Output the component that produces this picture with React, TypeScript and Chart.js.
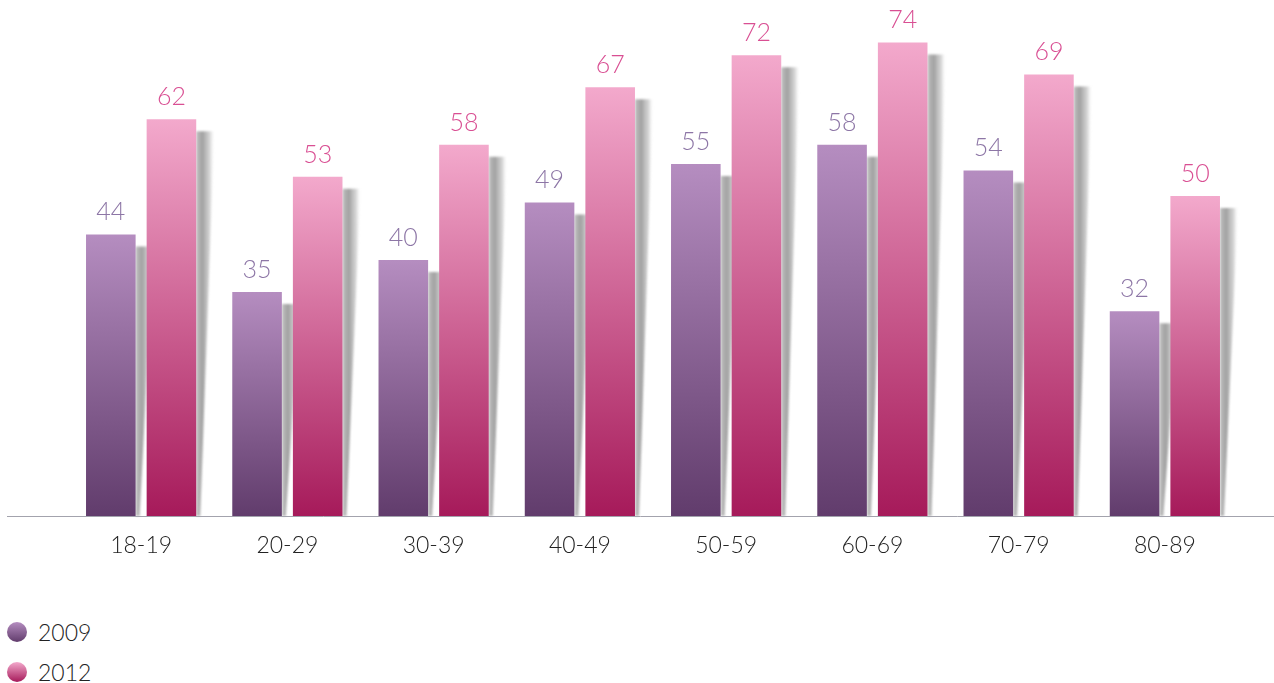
import React, { useEffect, useRef } from "react";
import { Chart, registerables } from "chart.js";

Chart.register(...registerables);

const categories = ["18-19", "20-29", "30-39", "40-49", "50-59", "60-69", "70-79", "80-89"];
const series2009 = [44, 35, 40, 49, 55, 58, 54, 32];
const series2012 = [62, 53, 58, 67, 72, 74, 69, 50];
const seriesLabels = ["2009", "2012"];

const FONT = "Lato, 'Open Sans', sans-serif";
const gradStops = [
  { top: "#b58dc0", bottom: "#613c6c", label: "#8d76a6" },
  { top: "#f3a9cc", bottom: "#a61a5a", label: "#d94f93" },
];

function barGradient(idx: number) {
  return (c: any) => {
    const chart = c.chart;
    const area = chart.chartArea;
    const st = gradStops[idx];
    if (!area || !chart.scales?.y) return st.top;
    const yTop = chart.scales.y.getPixelForValue(c.raw);
    const g = chart.ctx.createLinearGradient(0, yTop, 0, area.bottom);
    g.addColorStop(0, st.top);
    g.addColorStop(1, st.bottom);
    return g;
  };
}

const shadowPlugin = {
  id: "barShadow",
  beforeDatasetsDraw(chart: any) {
    const ctx = chart.ctx;
    chart.data.datasets.forEach((_: any, di: number) => {
      const meta = chart.getDatasetMeta(di);
      meta.data.forEach((bar: any) => {
        const right = bar.x + bar.width / 2;
        const top = bar.y + 12;
        const base = bar.base;
        ctx.save();
        ctx.filter = "blur(1.2px)";
        const g = ctx.createLinearGradient(right, 0, right + 18, 0);
        g.addColorStop(0, "rgba(150,150,150,0.6)");
        g.addColorStop(0.35, "rgba(110,110,110,0.65)");
        g.addColorStop(0.75, "rgba(150,150,150,0.4)");
        g.addColorStop(1, "rgba(220,220,220,0)");
        ctx.fillStyle = g;
        ctx.beginPath();
        ctx.moveTo(right, top);
        ctx.lineTo(right + 18, top);
        ctx.lineTo(right + 4, base);
        ctx.lineTo(right, base);
        ctx.closePath();
        ctx.fill();
        ctx.restore();
      });
    });
  },
};

const labelPlugin = {
  id: "valueLabels",
  afterDatasetsDraw(chart: any) {
    const ctx = chart.ctx;
    ctx.save();
    ctx.font = `300 25px ${FONT}`;
    ctx.textAlign = "center";
    ctx.textBaseline = "alphabetic";
    chart.data.datasets.forEach((ds: any, di: number) => {
      const meta = chart.getDatasetMeta(di);
      ctx.fillStyle = gradStops[di].label;
      meta.data.forEach((bar: any, i: number) => {
        ctx.fillText(String(ds.data[i]), bar.x, bar.y - 14);
      });
    });
    ctx.restore();
  },
};

const baselinePlugin = {
  id: "baseline",
  afterDatasetsDraw(chart: any) {
    const ctx = chart.ctx;
    const y = Math.round(chart.scales.y.getPixelForValue(0)) + 0.5;
    ctx.save();
    ctx.strokeStyle = "#a3a3ad";
    ctx.lineWidth = 1;
    ctx.beginPath();
    ctx.moveTo(7, y);
    ctx.lineTo(chart.width, y);
    ctx.stroke();
    ctx.restore();
  },
};

export default function App() {
  const ref = useRef<HTMLCanvasElement | null>(null);
  useEffect(() => {
    if (!ref.current) return;
    const chart = new Chart(ref.current, {
      type: "bar",
      data: {
        labels: categories,
        datasets: [
          { label: seriesLabels[0], data: series2009, backgroundColor: barGradient(0) as any },
          { label: seriesLabels[1], data: series2012, backgroundColor: barGradient(1) as any },
        ],
      },
      options: {
        animation: false,
        responsive: true,
        maintainAspectRatio: false,
        layout: { padding: { left: 68, right: 36, top: 4, bottom: 4.4 } },
        datasets: { bar: { barPercentage: 0.818, categoryPercentage: 0.829 } },
        plugins: { legend: { display: false }, tooltip: { enabled: false } },
        scales: {
          x: {
            grid: { display: false, drawTicks: false },
            border: { display: false },
            ticks: { padding: 16, color: "#222222", font: { family: FONT, size: 23, weight: 300 as any } },
          },
          y: { display: false, min: 0, max: 80 },
        },
      },
      plugins: [shadowPlugin, labelPlugin, baselinePlugin],
    });
    return () => chart.destroy();
  }, []);

  const legendItem = (i: number, top: number) => (
    <div key={i} style={{ position: "absolute", left: 7, top, display: "flex", alignItems: "center", height: 26 }}>
      <span
        style={{
          width: 20,
          height: 20,
          borderRadius: "50%",
          display: "inline-block",
          background: `linear-gradient(${gradStops[i].top}, ${gradStops[i].bottom})`,
        }}
      />
      <span style={{ marginLeft: 11, fontFamily: FONT, fontWeight: 300, fontSize: 23, color: "#222" }}>{seriesLabels[i]}</span>
    </div>
  );

  return (
    <div style={{ position: "fixed", left: 0, top: 0, width: 1274, height: 683, background: "#fff", overflow: "hidden" }}>
      <div style={{ position: "absolute", left: 0, top: 0, width: 1274, height: 580 }}>
        <canvas ref={ref} />
      </div>
      {legendItem(0, 619)}
      {legendItem(1, 659)}
    </div>
  );
}
